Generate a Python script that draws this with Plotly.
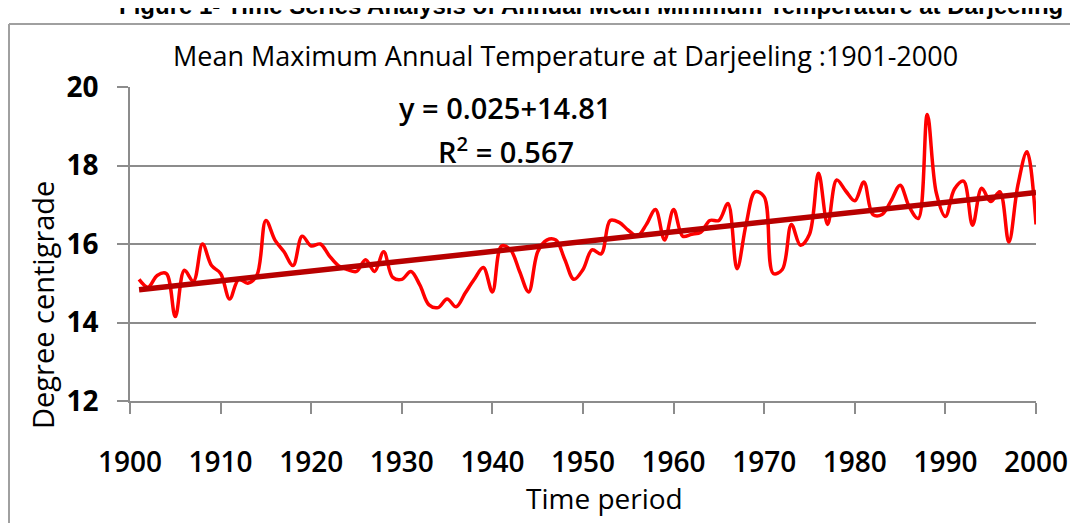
import plotly.graph_objects as go

# ---- data ----
years = list(range(1901, 2001))
temps = [
    15.1, 14.9, 15.2, 15.25, 14.15, 15.33, 15.05, 16.0, 15.45, 15.25,   # 1901-1910
    14.6, 15.1, 15.0, 15.2, 16.6, 16.1, 15.8, 15.45, 16.2, 15.95,        # 1911-1920
    16.0, 15.7, 15.45, 15.35, 15.3, 15.6, 15.3, 15.8, 15.15, 15.1,       # 1921-1930
    15.3, 14.95, 14.45, 14.38, 14.6, 14.4, 14.75, 15.1, 15.4, 14.78,     # 1931-1940
    15.95, 15.85, 15.3, 14.78, 15.8, 16.1, 16.1, 15.6, 15.1, 15.35,      # 1941-1950
    15.85, 15.75, 16.6, 16.55, 16.35, 16.2, 16.5, 16.88, 16.1, 16.88,    # 1951-1960
    16.2, 16.25, 16.3, 16.6, 16.6, 17.03, 15.37, 16.5, 17.33, 17.2,      # 1961-1970
    15.25, 15.35, 16.5, 15.97, 16.25, 17.8, 16.5, 17.63, 17.35, 17.1,    # 1971-1980
    17.58, 16.75, 16.75, 17.1, 17.5, 16.95, 16.65, 19.3, 17.3, 16.7,     # 1981-1990
    17.4, 17.6, 16.48, 17.42, 17.08, 17.33, 16.05, 17.5, 18.35, 16.5,    # 1991-2000
]
trend_slope = 0.025
trend_intercept = 14.81
trend = [trend_intercept + trend_slope * (i + 1) for i in range(len(years))]

x_ticks = list(range(1900, 2001, 10))
y_ticks = [12, 14, 16, 18, 20]

title_text = "Mean Maximum Annual Temperature at Darjeeling :1901-2000"
top_caption = "Figure 1- Time Series Analysis of Annual Mean Minimum Temperature at Darjeeling"
eq_text = "y = 0.025+14.81"
r2_text = "R<sup>2</sup> = 0.567"
x_title = "Time period"
y_title = "Degree centigrade"

# ---- geometry (the page body adds an 8 px offset) ----
OFF = 8
W, H = 1078 - OFF, 523 - OFF
L, R, T, B = 130 - OFF, 42, 87 - OFF, 122
PW, PH = W - L - R, H - T - B


def px(x):  # screen x -> paper
    return (x - OFF - L) / PW


def py(y):  # screen y -> paper
    return (H - B - (y - OFF)) / PH


FONT = "Open Sans"
GRID = "#8C8C8C"

fig = go.Figure()
fig.add_trace(go.Scatter(
    x=years, y=temps, mode="lines",
    line=dict(color="#FF0000", width=3.5, shape="spline", smoothing=1.0),
    hoverinfo="x+y",
))
fig.add_trace(go.Scatter(
    x=years, y=trend, mode="lines",
    line=dict(color="#B80000", width=5.5),
    hoverinfo="skip",
))
fig.add_trace(go.Scatter(x=[1950], y=[16], yaxis="y2", mode="markers",
                         marker=dict(opacity=0), hoverinfo="skip",
                         showlegend=False))

fig.update_layout(
    width=W, height=H,
    margin=dict(l=L, r=R, t=T, b=B),
    paper_bgcolor="white", plot_bgcolor="white",
    showlegend=False,
    font=dict(family=FONT, color="black"),
    xaxis=dict(
        range=[1900, 2000], tickvals=x_ticks, ticktext=[str(v) for v in x_ticks],
        showgrid=False, zeroline=False, automargin=False,
        showline=True, linecolor=GRID, linewidth=1.5,
        ticks="outside", ticklen=11, tickwidth=1.5, tickcolor=GRID,
        tickfont=dict(family=FONT, size=28, color="black", weight=600),
        ticklabelstandoff=25,
    ),
    yaxis=dict(
        range=[12, 20], tickvals=y_ticks, ticktext=[str(v) for v in y_ticks],
        showgrid=True, gridcolor=GRID, gridwidth=1.5, zeroline=False,
        automargin=False,
        showline=True, linecolor=GRID, linewidth=1.5,
        ticks="outside", ticklen=11, tickwidth=1.5, tickcolor=GRID,
        tickfont=dict(family=FONT, size=28, color="black", weight="bold"),
        ticklabelstandoff=13,
    ),
    yaxis2=dict(
        range=[12, 20], tickvals=y_ticks, overlaying="y", side="left",
        showgrid=False, zeroline=False, showline=False, automargin=False,
        ticks="inside", ticklen=10, tickwidth=1.5, tickcolor=GRID,
        showticklabels=False,
    ),
)

annotations = [
    dict(text=title_text, x=px(565), y=py(55), font=dict(size=27)),
    dict(text=eq_text, x=px(505), y=py(107), font=dict(size=29, weight=600)),
    dict(text=r2_text, x=px(506), y=py(150), font=dict(size=29, weight=600)),
    dict(text=x_title, x=px(604), y=py(498), font=dict(size=28)),
    dict(text=y_title, x=px(42), y=py(305), font=dict(size=29), textangle=-90),
    dict(text="<b>" + top_caption + "</b>", x=px(591), y=py(5),
         font=dict(size=24, family="Liberation Sans")),
]
for a in annotations:
    a.update(xref="paper", yref="paper", xanchor="center", yanchor="middle",
             showarrow=False)
    a["font"].setdefault("family", FONT)
    a["font"]["color"] = "black"
fig.update_layout(annotations=annotations)

fig.update_layout(shapes=[
    dict(type="line", xref="paper", yref="paper",
         x0=px(9), x1=px(9), y0=py(24), y1=py(530),
         line=dict(color="#A0A0A0", width=2)),
    dict(type="line", xref="paper", yref="paper",
         x0=px(9), x1=px(1085), y0=py(24), y1=py(24),
         line=dict(color="#A0A0A0", width=2)),
])

fig.write_html("out.html")
